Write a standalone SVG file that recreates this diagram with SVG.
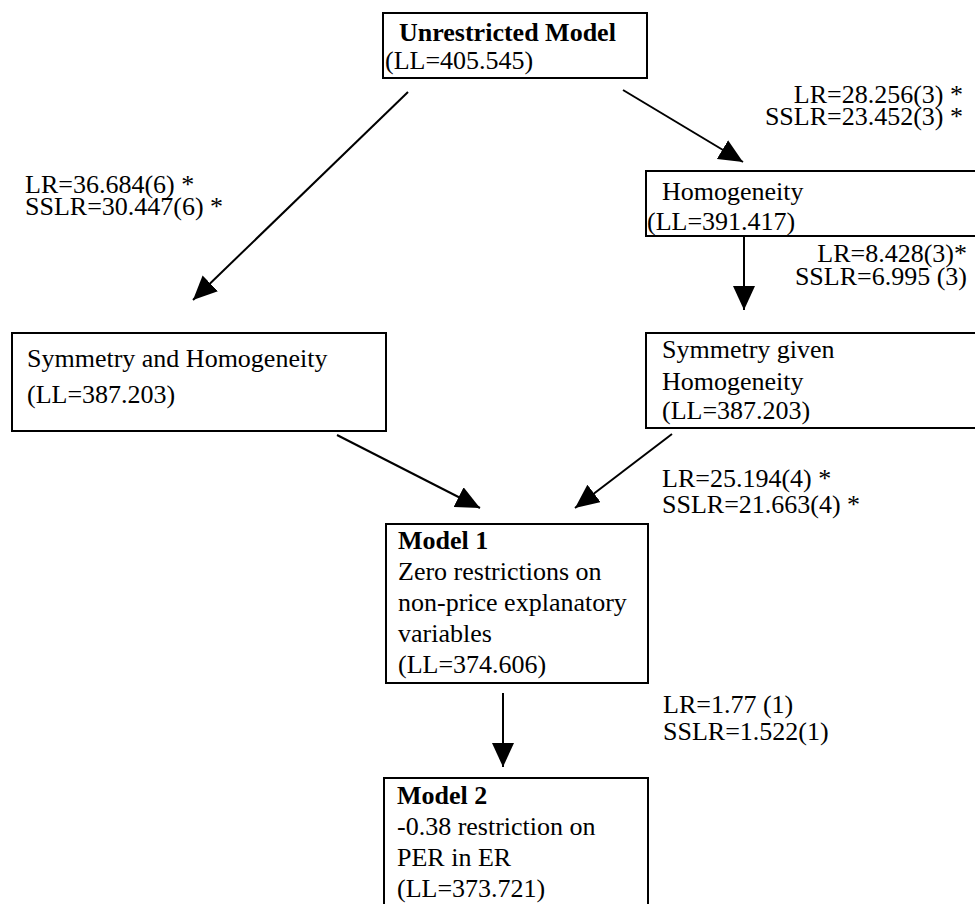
<svg xmlns="http://www.w3.org/2000/svg" width="975" height="904" viewBox="0 0 975 904">
<defs>
<style>
text{font-family:"Liberation Serif","Times New Roman",serif;font-size:26px;fill:#000}
.b{font-weight:bold}
.box{fill:#fff;stroke:#000;stroke-width:2}
.edge{stroke:#000;stroke-width:2;fill:none;marker-end:url(#ah)}
.end{text-anchor:end}
</style>
<marker id="ah" markerUnits="userSpaceOnUse" markerWidth="24" markerHeight="22" viewBox="0 0 24 22" refX="24" refY="11" orient="auto">
<path d="M0,0 L24,11 L0,22 z" fill="#000"/>
</marker>
</defs>
<rect width="975" height="904" fill="#fff"/>
<g id="connectors">
<line class="edge" x1="408" y1="92" x2="193" y2="300"/>
<line class="edge" x1="623" y1="90" x2="743" y2="162"/>
<line class="edge" x1="744" y1="236" x2="744" y2="310"/>
<line class="edge" x1="337" y1="435" x2="480" y2="508"/>
<line class="edge" x1="672" y1="434" x2="575" y2="508"/>
<line class="edge" x1="503" y1="693" x2="503" y2="767"/>
</g>
<g id="labels">
<text x="25" y="193">LR=36.684(6) *</text>
<text x="25" y="215">SSLR=30.447(6) *</text>
<text class="end" x="963" y="103">LR=28.256(3) *</text>
<text class="end" x="963" y="125">SSLR=23.452(3) *</text>
<text class="end" x="967" y="262">LR=8.428(3)*</text>
<text class="end" x="967" y="285">SSLR=6.995 (3)</text>
<text x="662" y="487">LR=25.194(4) *</text>
<text x="662" y="513">SSLR=21.663(4) *</text>
<text x="663" y="713">LR=1.77 (1)</text>
<text x="663" y="740">SSLR=1.522(1)</text>
</g>
<g id="unrestricted">
<rect class="box" x="383" y="13" width="264" height="65"/>
<text class="b" x="399" y="41">Unrestricted Model</text>
<text x="385" y="69">(LL=405.545)</text>
</g>
<g id="homogeneity">
<rect class="box" x="646" y="171" width="340" height="65"/>
<text x="662" y="200">Homogeneity</text>
<text x="647" y="230">(LL=391.417)</text>
</g>
<g id="symmetry-homogeneity">
<rect class="box" x="12" y="333" width="374" height="98"/>
<text x="27" y="367">Symmetry and Homogeneity</text>
<text x="27" y="403">(LL=387.203)</text>
</g>
<g id="symmetry-given-homogeneity">
<rect class="box" x="646" y="333" width="340" height="95"/>
<text x="662" y="358">Symmetry given</text>
<text x="662" y="390">Homogeneity</text>
<text x="662" y="419">(LL=387.203)</text>
</g>
<g id="model1">
<rect class="box" x="386" y="524" width="262" height="159"/>
<text class="b" x="398" y="549">Model 1</text>
<text x="398" y="580">Zero restrictions on</text>
<text x="398" y="611">non-price explanatory</text>
<text x="398" y="642">variables</text>
<text x="398" y="673">(LL=374.606)</text>
</g>
<g id="model2">
<rect class="box" x="384" y="778" width="264" height="140"/>
<text class="b" x="397" y="804">Model 2</text>
<text x="397" y="835">-0.38 restriction on</text>
<text x="397" y="866">PER in ER</text>
<text x="397" y="897">(LL=373.721)</text>
</g>
</svg>
